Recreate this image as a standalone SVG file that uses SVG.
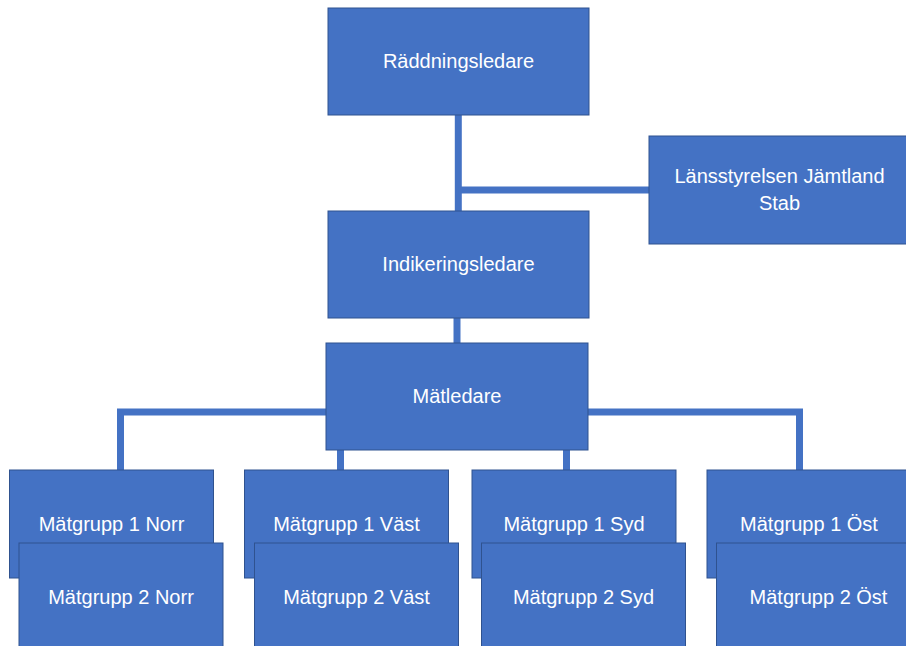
<svg xmlns="http://www.w3.org/2000/svg" width="906" height="646" viewBox="0 0 906 646">
<style>
.box{fill:#4472C4;stroke:#2F528F;stroke-width:1}
.lbl{font-family:"Liberation Sans",Arial,sans-serif;font-size:20px;fill:#FFFFFF;text-anchor:middle}
.con{fill:none;stroke:#4472C4;stroke-width:7;stroke-linejoin:miter}
</style>
<rect width="906" height="646" fill="#FFFFFF"/>
<g id="connectors">
<path class="con" d="M458.3,115 V211"/>
<path class="con" d="M458.3,190 H649"/>
<path class="con" d="M457,318 V343"/>
<path class="con" d="M120.5,470 V412 H799.5 V470"/>
<path class="con" d="M340.5,450 V470"/>
<path class="con" d="M566.5,450 V470"/>
</g>
<g id="raddningsledare">
<rect class="box" x="328" y="8" width="261" height="107"/>
<text class="lbl" x="458.5" y="68">Räddningsledare</text>
</g>
<g id="lansstyrelsen">
<rect class="box" x="649" y="136" width="262" height="108"/>
<text class="lbl" x="779.5" y="183">Länsstyrelsen Jämtland</text>
<text class="lbl" x="779.5" y="210">Stab</text>
</g>
<g id="indikeringsledare">
<rect class="box" x="328" y="211" width="261" height="107"/>
<text class="lbl" x="458.5" y="271">Indikeringsledare</text>
</g>
<g id="matledare">
<rect class="box" x="326" y="343" width="262" height="107"/>
<text class="lbl" x="457" y="403">Mätledare</text>
</g>
<g id="matgrupp1-norr">
<rect class="box" x="9.5" y="470" width="204" height="108"/>
<text class="lbl" x="111.5" y="531">Mätgrupp 1 Norr</text>
</g>
<g id="matgrupp1-vast">
<rect class="box" x="244.5" y="470" width="204" height="108"/>
<text class="lbl" x="346.5" y="531">Mätgrupp 1 Väst</text>
</g>
<g id="matgrupp1-syd">
<rect class="box" x="472" y="470" width="204" height="108"/>
<text class="lbl" x="574" y="531">Mätgrupp 1 Syd</text>
</g>
<g id="matgrupp1-ost">
<rect class="box" x="707" y="470" width="204" height="108"/>
<text class="lbl" x="809" y="531">Mätgrupp 1 Öst</text>
</g>
<g id="matgrupp2-norr">
<rect class="box" x="19" y="543" width="204" height="108"/>
<text class="lbl" x="121" y="604">Mätgrupp 2 Norr</text>
</g>
<g id="matgrupp2-vast">
<rect class="box" x="254.5" y="543" width="204" height="108"/>
<text class="lbl" x="356.5" y="604">Mätgrupp 2 Väst</text>
</g>
<g id="matgrupp2-syd">
<rect class="box" x="481.5" y="543" width="204" height="108"/>
<text class="lbl" x="583.5" y="604">Mätgrupp 2 Syd</text>
</g>
<g id="matgrupp2-ost">
<rect class="box" x="716.5" y="543" width="204" height="108"/>
<text class="lbl" x="818.5" y="604">Mätgrupp 2 Öst</text>
</g>
</svg>
